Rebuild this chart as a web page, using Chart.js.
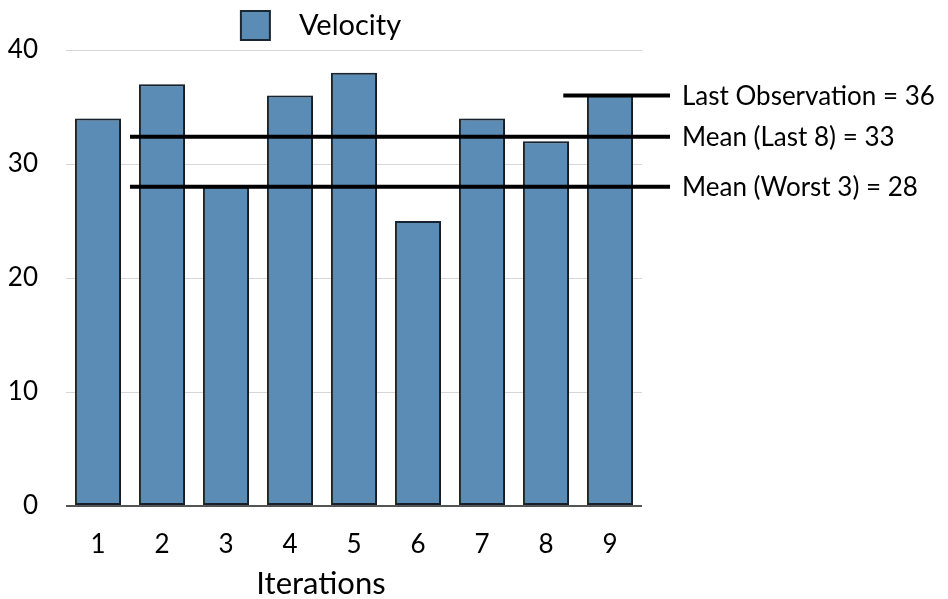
<!DOCTYPE html>
<html>
<head>
<meta charset="utf-8">
<script src="https://cdn.jsdelivr.net/npm/chart.js@4/dist/chart.umd.min.js"></script>
<style>
html,body{margin:0;padding:0;background:#fff;}
#wrap{width:948px;height:599px;position:relative;}
</style>
</head>
<body>
<div id="wrap"><canvas id="c" width="948" height="599"></canvas></div>
<script>
const iterations = ['1','2','3','4','5','6','7','8','9'];
const velocity = [34, 37, 28, 36, 38, 25, 34, 32, 36];
const yTicks = [0, 10, 20, 30, 40];
const refLabels = ['Last Observation = 36', 'Mean (Last 8) = 33', 'Mean (Worst 3) = 28'];
const refValues = [36, 32.4, 28];
const refStartIndex = [7.27, 0.5, 0.5];
const xTitle = 'Iterations';

const FONT = 'Lato, "Open Sans", sans-serif';

const refLinesPlugin = {
  id: 'refLines',
  afterDatasetsDraw(chart) {
    const ctx = chart.ctx;
    const xs = chart.scales.x, ys = chart.scales.y;
    const endX = chart.chartArea.right + 28;
    ctx.save();
    ctx.strokeStyle = '#000';
    ctx.lineWidth = 4;
    ctx.font = '26px ' + FONT;
    ctx.fillStyle = '#000';
    ctx.textBaseline = 'middle';
    ctx.textAlign = 'left';
    for (let i = 0; i < refLabels.length; i++) {
      const y = ys.getPixelForValue(refValues[i]);
      const x0 = xs.getPixelForValue(refStartIndex[i]);
      ctx.beginPath();
      ctx.moveTo(x0, y);
      ctx.lineTo(endX, y);
      ctx.stroke();
      ctx.fillText(refLabels[i], endX + 12, y + 1);
    }
    ctx.restore();
  }
};

const xTitlePlugin = {
  id: 'xTitle',
  afterDraw(chart) {
    const ctx = chart.ctx;
    ctx.save();
    ctx.font = '31px ' + FONT;
    ctx.fillStyle = '#000';
    ctx.textAlign = 'center';
    ctx.textBaseline = 'alphabetic';
    ctx.fillText(xTitle, chart.chartArea.right / 2, chart.height - 5);
    ctx.restore();
  }
};

const shadowPlugin = {
  id: 'barShadow',
  beforeDatasetsDraw(chart) {
    const ctx = chart.ctx;
    ctx.save();
    ctx.shadowColor = 'rgba(0,0,0,0.35)';
    ctx.shadowBlur = 5;
    ctx.shadowOffsetX = 3;
    ctx.shadowOffsetY = 1;
  },
  afterDatasetsDraw(chart) {
    chart.ctx.restore();
  }
};

new Chart(document.getElementById('c'), {
  type: 'bar',
  data: {
    labels: iterations,
    datasets: [{
      label: 'Velocity',
      data: velocity,
      backgroundColor: '#5b8cb5',
      borderColor: '#1a2632',
      borderWidth: 2,
      borderSkipped: false,
      categoryPercentage: 1,
      barPercentage: 0.72
    }]
  },
  options: {
    responsive: false,
    animation: false,
    devicePixelRatio: 1,
    layout: { padding: { left: 0, right: 306, top: 5, bottom: 0 } },
    plugins: {
      legend: {
        display: true,
        position: 'top',
        labels: {
          boxWidth: 29, boxHeight: 29, padding: 6,
          color: '#000',
          font: { family: FONT, size: 29 },
          generateLabels(chart) {
            const items = Chart.defaults.plugins.legend.labels.generateLabels(chart);
            items.forEach(it => { it.text = '\u2002' + it.text; });
            return items;
          }
        }
      },
      tooltip: { enabled: false }
    },
    scales: {
      x: {
        grid: { display: false, drawTicks: false },
        border: { display: false },
        ticks: { color: '#000', font: { family: FONT, size: 26 }, padding: 23 },
        title: { display: false },
        afterFit(s) { s.height = 93; }
      },
      y: {
        min: 0, max: 40,
        afterBuildTicks(s) { s.ticks = yTicks.map(v => ({ value: v })); },
        grid: {
          drawTicks: false,
          color: (c) => c.tick && c.tick.value === 0 ? '#555' : '#d6d6d6',
          lineWidth: (c) => c.tick && c.tick.value === 0 ? 2 : 1
        },
        border: { display: false },
        ticks: { color: '#000', font: { family: FONT, size: 26 }, padding: 28 },
        afterFit(s) { s.width = 66; }
      }
    }
  },
  plugins: [shadowPlugin, refLinesPlugin, xTitlePlugin]
});
</script>
</body>
</html>
